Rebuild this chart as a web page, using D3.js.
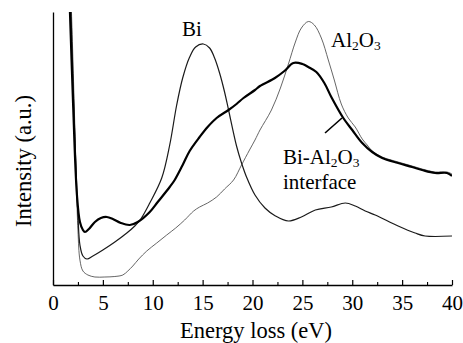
<!DOCTYPE html>
<html>
<head>
<meta charset="utf-8">
<script src="https://cdn.jsdelivr.net/npm/d3@7"></script>
<style>
  html, body { margin: 0; padding: 0; background: #fff; }
  svg { display: block; }
</style>
</head>
<body>
<svg id="chart" width="463" height="343"></svg>
<script>
// ---- data (energy loss in eV, intensity in arbitrary units) ----
const xTicks = [0, 5, 10, 15, 20, 25, 30, 35, 40];
const xMinorTicks = [2.5, 7.5, 12.5, 17.5, 22.5, 27.5, 32.5, 37.5];

const interfaceE = [1.62, 1.7, 2.0, 2.4, 2.7, 3.0, 3.2, 3.6, 4.2, 4.8, 5.4, 6.0, 6.8, 7.7, 8.5, 9.7, 10.5, 11.7, 12.2, 13.0, 13.7, 14.7, 15.5, 16.4, 17.6, 18.4, 19.1, 20.25, 20.75, 22.25, 23.2, 24.1, 25.0, 25.6, 26.4, 27.2, 27.9, 29.1, 30.0, 31.0, 32.0, 33.0, 34.6, 36.0, 37.0, 38.3, 39.5, 40.0];
const interfaceI = [290, 273, 185, 90, 63, 55, 53, 56, 63, 67, 68, 66, 62, 60, 63, 73, 83, 98, 105, 120, 134, 148, 158, 167, 175, 181, 187, 195, 199, 207, 214, 222, 221, 218, 213, 202, 188, 167, 155, 142, 133, 127, 122, 118, 115, 112, 112, 109];

const biE = [1.72, 1.8, 2.1, 2.5, 2.7, 3.0, 3.4, 4.0, 5.0, 6.2, 7.4, 8.2, 8.8, 9.7, 10.9, 11.7, 12.4, 13.0, 13.7, 14.3, 15.07, 15.7, 16.2, 16.7, 17.2, 17.6, 18.4, 18.9, 19.4, 20.25, 21.25, 22.3, 23.6, 24.9, 26.3, 27.9, 29.3, 30.3, 31.3, 32.3, 34.6, 36.3, 37.3, 40.0];
const biI = [290, 273, 175, 70, 40, 29, 26, 29, 35, 43, 52, 59, 66, 82, 107, 140, 180, 207, 228, 238, 241, 237, 227, 212, 193, 175, 139, 122, 108, 90, 77, 69, 64, 68, 75, 78, 82, 79, 74, 70, 59, 52, 49, 49];

const al2o3E = [1.78, 1.85, 2.2, 2.5, 2.7, 3.0, 3.5, 4.2, 5.2, 6.2, 7.0, 7.5, 8.0, 8.6, 9.4, 10.4, 11.4, 12.3, 13.2, 14.1, 14.7, 15.5, 16.4, 17.2, 18.1, 18.9, 19.7, 20.25, 20.75, 21.9, 22.8, 23.6, 24.3, 24.9, 25.6, 26.2, 26.9, 27.6, 28.2, 28.9, 29.6, 30.3, 31.0, 31.5, 32.0, 33.0, 34.6, 36.0, 37.0, 38.3, 39.5, 40.0];
const al2o3I = [290, 273, 155, 55, 25, 14, 10, 8, 8, 8.5, 10, 14, 19, 26, 34, 42, 50, 57, 65, 74, 78, 82, 88, 96, 105, 120, 135, 145, 155, 175, 197, 221, 243, 257, 263.5, 260, 247, 225, 205, 181, 167, 158, 146, 140, 134, 128, 123, 119, 116, 113, 113, 111];

const xDomain = [0, 40];
const yDomain = [0, 273];

// ---- layout ----
const FONT = '"Liberation Serif", "Times New Roman", serif';
const svg = d3.select("#chart");
const plot = { left: 53, right: 452, top: 12, bottom: 285 };

const x = d3.scaleLinear().domain(xDomain).range([plot.left, plot.right]);
const y = d3.scaleLinear().domain(yDomain).range([plot.bottom, plot.top]);

svg.append("rect").attr("width", 463).attr("height", 343).attr("fill", "#fff");

svg.append("defs").append("clipPath").attr("id", "clip")
  .append("rect")
  .attr("x", plot.left).attr("y", plot.top)
  .attr("width", plot.right - plot.left).attr("height", plot.bottom - plot.top);

const zip = (xs, ys) => xs.map((v, i) => [v, ys[i]]);
const line = d3.line()
  .x(d => x(d[0])).y(d => y(d[1]))
  .curve(d3.curveCatmullRom.alpha(0.5));

const g = svg.append("g").attr("clip-path", "url(#clip)");

g.append("path").datum(zip(al2o3E, al2o3I))
  .attr("d", line).attr("fill", "none")
  .attr("stroke", "#555").attr("stroke-width", 0.9);

g.append("path").datum(zip(biE, biI))
  .attr("d", line).attr("fill", "none")
  .attr("stroke", "#1a1a1a").attr("stroke-width", 1.2);

g.append("path").datum(zip(interfaceE, interfaceI))
  .attr("d", line).attr("fill", "none")
  .attr("stroke", "#000").attr("stroke-width", 2.2);

// ---- axes ----
const xAxis = svg.append("g")
  .attr("transform", `translate(0,${plot.bottom})`)
  .call(d3.axisBottom(x).tickValues(xTicks).tickSize(-5).tickSizeOuter(0).tickPadding(10)
        .tickFormat(d3.format("d")));
xAxis.attr("font-family", FONT).attr("font-size", 21);
xAxis.select(".domain").attr("stroke", "#000").attr("stroke-width", 1.3);
xAxis.selectAll(".tick line").attr("stroke", "#000").attr("stroke-width", 1.2);
xAxis.selectAll(".tick text")
  .style("font-family", FONT)
  .attr("font-size", 21).attr("fill", "#000");

const xMinor = svg.append("g")
  .attr("transform", `translate(0,${plot.bottom})`)
  .call(d3.axisBottom(x).tickValues(xMinorTicks).tickSize(-3).tickSizeOuter(0).tickFormat(""));
xMinor.select(".domain").remove();
xMinor.selectAll(".tick line").attr("stroke", "#000").attr("stroke-width", 1.1);

const yAxis = svg.append("g")
  .attr("transform", `translate(${plot.left},0)`)
  .call(d3.axisLeft(y).tickValues([]).tickSizeOuter(0));
yAxis.select(".domain").attr("stroke", "#000").attr("stroke-width", 1.3);

// ---- axis titles ----
const txt = (sel, size = 21) => sel.style("font-family", FONT).attr("font-size", size).attr("fill", "#000");

txt(svg.append("text")
  .attr("x", 256).attr("y", 338)
  .attr("text-anchor", "middle"), 22.5)
  .text("Energy loss (eV)");

txt(svg.append("text")
  .attr("transform", "translate(31,161) rotate(-90)")
  .attr("text-anchor", "middle"), 22.5)
  .text("Intensity (a.u.)");

// ---- annotations ----
txt(svg.append("text").attr("x", 182).attr("y", 36)).text("Bi");

const al = txt(svg.append("text").attr("x", 331).attr("y", 47));
al.append("tspan").text("Al");
al.append("tspan").attr("font-size", 13.5).attr("dy", 3).text("2");
al.append("tspan").attr("dy", -3).text("O");
al.append("tspan").attr("font-size", 13.5).attr("dy", 3).text("3");

const bal = txt(svg.append("text").attr("x", 283).attr("y", 164));
bal.append("tspan").text("Bi-Al");
bal.append("tspan").attr("font-size", 13.5).attr("dy", 3).text("2");
bal.append("tspan").attr("dy", -3).text("O");
bal.append("tspan").attr("font-size", 13.5).attr("dy", 3).text("3");

txt(svg.append("text").attr("x", 283).attr("y", 189)).text("interface");

svg.append("line")
  .attr("x1", 325).attr("y1", 133).attr("x2", 342).attr("y2", 118)
  .attr("stroke", "#000").attr("stroke-width", 1.6);
</script>
</body>
</html>
